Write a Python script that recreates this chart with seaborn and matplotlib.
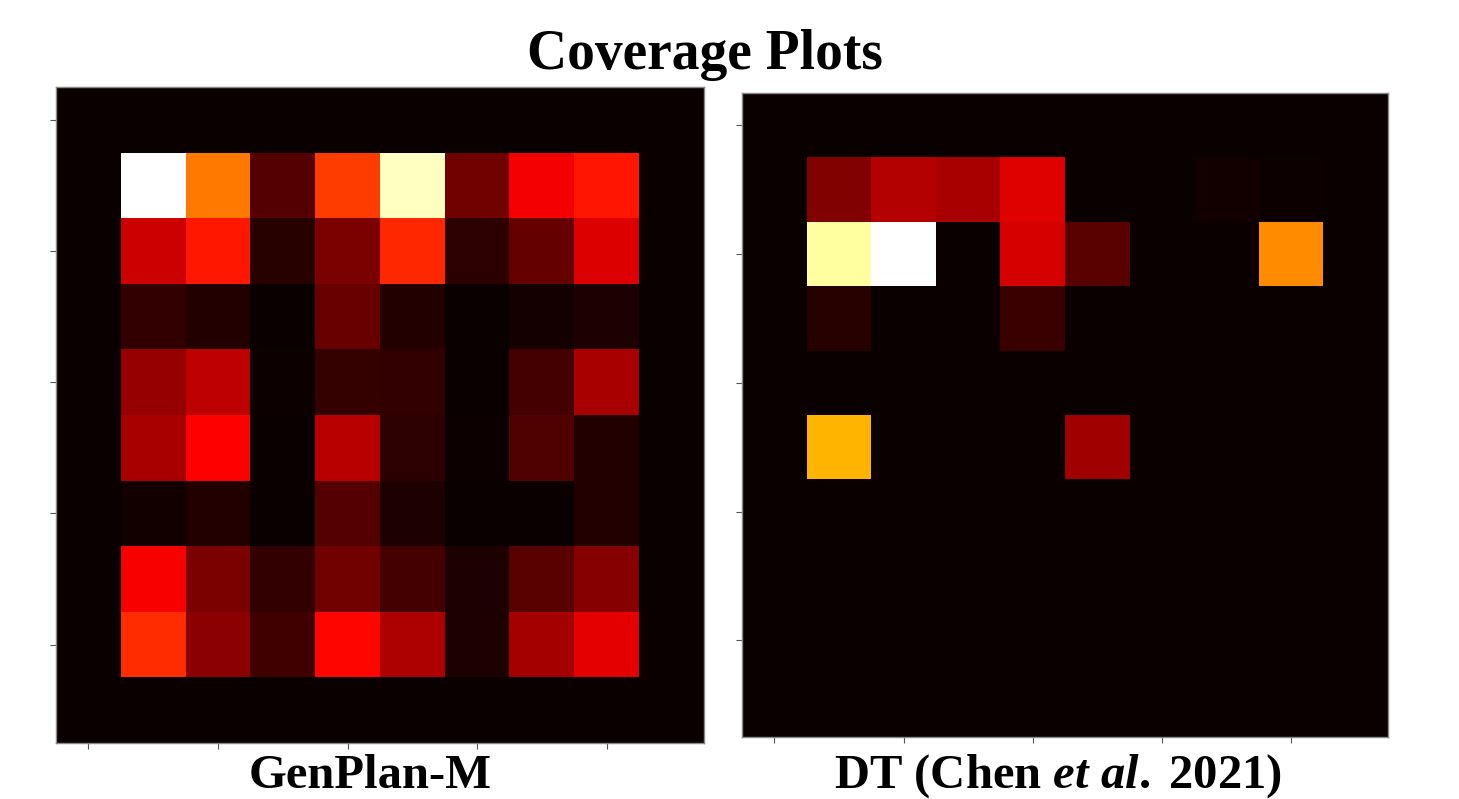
import numpy as np
import seaborn as sns
import matplotlib.pyplot as plt

# coverage values (normalised 0..1), 10x10 grid, outer ring never visited
genplan = [
    [0, 0,     0,     0,     0,     0,     0,     0,     0,     0],
    [0, 1.000, 0.544, 0.111, 0.455, 0.936, 0.156, 0.350, 0.395, 0],
    [0, 0.290, 0.402, 0.044, 0.171, 0.425, 0.052, 0.134, 0.313, 0],
    [0, 0.059, 0.036, 0.000, 0.141, 0.036, 0.000, 0.017, 0.029, 0],
    [0, 0.208, 0.268, 0.007, 0.066, 0.059, 0.002, 0.089, 0.238, 0],
    [0, 0.238, 0.365, 0.000, 0.261, 0.052, 0.007, 0.104, 0.036, 0],
    [0, 0.014, 0.036, 0.000, 0.111, 0.029, 0.000, 0.000, 0.036, 0],
    [0, 0.358, 0.171, 0.059, 0.156, 0.089, 0.029, 0.119, 0.186, 0],
    [0, 0.432, 0.193, 0.081, 0.372, 0.246, 0.029, 0.231, 0.328, 0],
    [0, 0,     0,     0,     0,     0,     0,     0,     0,     0],
]

dt_chen = [
    [0, 0,     0,     0,     0,     0,     0,     0,     0,     0],
    [0, 0.178, 0.253, 0.238, 0.320, 0.002, 0.000, 0.014, 0.007, 0],
    [0, 0.905, 1.000, 0.000, 0.305, 0.119, 0.000, 0.000, 0.574, 0],
    [0, 0.044, 0.000, 0.000, 0.074, 0.000, 0.000, 0.000, 0.000, 0],
    [0, 0,     0,     0,     0,     0,     0,     0,     0,     0],
    [0, 0.634, 0.000, 0.000, 0.000, 0.223, 0.000, 0.000, 0.000, 0],
    [0, 0,     0,     0,     0,     0,     0,     0,     0,     0],
    [0, 0,     0,     0,     0,     0,     0,     0,     0,     0],
    [0, 0,     0,     0,     0,     0,     0,     0,     0,     0],
    [0, 0,     0,     0,     0,     0,     0,     0,     0,     0],
]

panel_names = ['GenPlan-M', r'DT (Chen $\it{et\ al.}\;$2021)']

plt.rcParams['font.family'] = ['Liberation Serif', 'DejaVu Serif']
plt.rcParams['mathtext.fontset'] = 'custom'
plt.rcParams['mathtext.it'] = 'Liberation Serif:italic:bold'
plt.rcParams['mathtext.rm'] = 'Liberation Serif:bold'

fig = plt.figure(figsize=(14.59, 7.99), dpi=100)
ax1 = fig.add_axes([0.0384, 0.070, 0.444, 0.821])
ax2 = fig.add_axes([0.5086, 0.0776, 0.4428, 0.806])

for ax, grid in [(ax1, genplan), (ax2, dt_chen)]:
    sns.heatmap(np.array(grid), ax=ax, cmap='hot', vmin=0, vmax=1,
                cbar=False, square=False)
    ticks = [0.5, 2.5, 4.5, 6.5, 8.5]
    ax.set_xticks(ticks)
    ax.set_yticks(ticks)
    ax.set_xticklabels([''] * 5)
    ax.set_yticklabels([''] * 5)
    ax.tick_params(length=4, width=0.8, color='#555555')
    for s in ax.spines.values():
        s.set_visible(True)
        s.set_color('#888888')
        s.set_linewidth(1.0)

fig.text(0.483, 0.914, 'Coverage Plots', ha='center', va='baseline',
         fontsize=40, fontweight='bold')
fig.text(0.254, 0.014, panel_names[0], ha='center', va='baseline',
         fontsize=35, fontweight='bold')
fig.text(0.725, 0.014, panel_names[1], ha='center', va='baseline',
         fontsize=35, fontweight='bold')

fig.savefig('out.png', dpi=100)
